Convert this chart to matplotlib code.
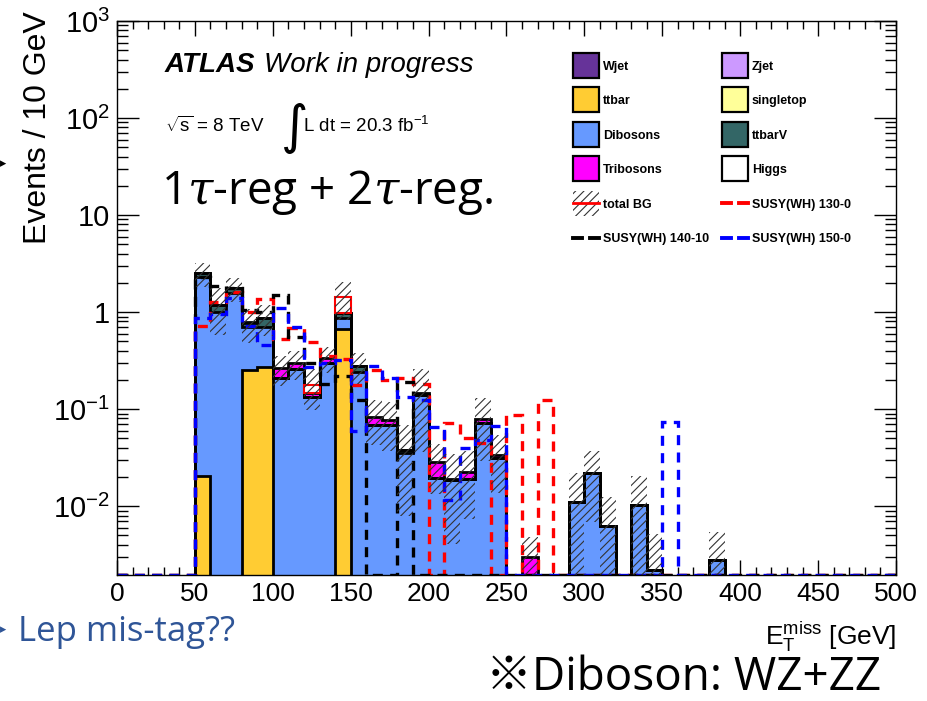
import numpy as np
import matplotlib
matplotlib.use('Agg')
import matplotlib.pyplot as plt
from matplotlib.patches import Rectangle
from matplotlib.lines import Line2D
from matplotlib.ticker import LogLocator, MultipleLocator, NullFormatter

plt.rcParams['font.family'] = ['Liberation Sans', 'DejaVu Sans']
plt.rcParams['mathtext.fontset'] = 'custom'
plt.rcParams['mathtext.rm'] = 'Liberation Sans'
plt.rcParams['mathtext.it'] = 'Liberation Sans:italic'
plt.rcParams['mathtext.bf'] = 'Liberation Sans:bold'
plt.rcParams['hatch.linewidth'] = 0.8

# ---------------- data ----------------
edges = np.arange(0, 510, 10)  # 50 bins of 10 GeV

ttbar = [0, 0, 0, 0, 0, 0.0204, 0, 0, 0.252, 0.27,
         0, 0, 0, 0, 0.67, 0, 0, 0, 0, 0,
         0, 0, 0, 0, 0, 0, 0, 0, 0, 0,
         0, 0, 0, 0, 0, 0, 0, 0, 0, 0,
         0, 0, 0, 0, 0, 0, 0, 0, 0, 0]
dibosons = [0, 0, 0, 0, 0, 2.28, 1.0, 1.57, 0.45, 0.43,
            0.21, 0.26, 0.133, 0.30, 0.20, 0.24, 0.068, 0.068, 0.035, 0.14,
            0.0194, 0.0185, 0.019, 0.072, 0.031, 0, 0, 0, 0, 0.0109,
            0.0219, 0.0063, 0, 0.0102, 0.0022, 0, 0, 0, 0.0028, 0,
            0, 0, 0, 0, 0, 0, 0, 0, 0, 0]
ttbarV = [0, 0, 0, 0, 0, 0.2, 0.18, 0.2, 0.07, 0.17,
          0, 0, 0, 0, 0.11, 0.04, 0, 0, 0.003, 0,
          0, 0, 0, 0, 0, 0, 0, 0, 0, 0,
          0, 0, 0, 0, 0, 0, 0, 0, 0, 0,
          0, 0, 0, 0, 0, 0, 0, 0, 0, 0]
tribosons = [0, 0, 0, 0, 0, 0, 0, 0, 0.01, 0,
             0.055, 0.04, 0.013, 0.035, 0, 0, 0.015, 0.009, 0, 0.006,
             0.009, 0.0006, 0.0034, 0.007, 0.0026, 0, 0.003, 0, 0, 0,
             0, 0, 0, 0, 0, 0, 0, 0, 0, 0,
             0, 0, 0, 0, 0, 0, 0, 0, 0, 0]
higgs = [0, 0, 0, 0, 0, 0, 0, 0, 0, 0,
         0, 0, 0.031, 0, 0.45, 0, 0, 0, 0, 0,
         0, 0, 0, 0, 0, 0, 0, 0, 0, 0,
         0, 0, 0, 0, 0, 0, 0, 0, 0, 0,
         0, 0, 0, 0, 0, 0, 0, 0, 0, 0]
bg_err = [0, 0, 0, 0, 0, 0.7, 0.6, 0.5, 0.3, 0.3,
          0.09, 0.1, 0.08, 0.1, 0.6, 0.1, 0.04, 0.04, 0.03, 0.11,
          0.015, 0.015, 0.015, 0.05, 0.02, 0, 0.0018, 0, 0, 0.011,
          0.015, 0.006, 0, 0.01, 0.003, 0, 0, 0, 0.0026, 0,
          0, 0, 0, 0, 0, 0, 0, 0, 0, 0]

sig_130_0 = [0, 0, 0, 0, 0, 0.72, 1.27, 1.6, 1.0, 1.36,
             0.53, 0.68, 0.49, 0.35, 0.33, 0.177, 0.25, 0.2, 0.21, 0.18,
             0, 0.072, 0.05, 0.045, 0, 0.087, 0, 0.124, 0, 0,
             0, 0, 0, 0, 0, 0, 0, 0, 0, 0,
             0, 0, 0, 0, 0, 0, 0, 0, 0, 0]
sig_140_10 = [0, 0, 0, 0, 0, 2.3, 1.85, 1.75, 1.05, 1.0,
              1.5, 0.55, 0.3, 0.18, 0.22, 0.124, 0, 0, 0.19, 0,
              0, 0, 0, 0, 0, 0, 0, 0, 0, 0,
              0, 0, 0, 0, 0, 0, 0, 0, 0, 0,
              0, 0, 0, 0, 0, 0, 0, 0, 0, 0]
sig_150_0 = [0, 0, 0, 0, 0, 0.87, 0.95, 1.39, 0.72, 0.46,
             1.1, 0.7, 0.27, 0.3, 0.32, 0.06, 0.28, 0.21, 0.133, 0.124,
             0.065, 0.0116, 0.04, 0.048, 0.067, 0, 0, 0, 0, 0,
             0, 0, 0, 0, 0, 0.0736, 0, 0, 0, 0,
             0, 0, 0, 0, 0, 0, 0, 0, 0, 0]

legend_col1 = ['Wjet', 'ttbar', 'Dibosons', 'Tribosons', 'total BG', 'SUSY(WH) 140-10']
legend_col2 = ['Zjet', 'singletop', 'ttbarV', 'Higgs', 'SUSY(WH) 130-0', 'SUSY(WH) 150-0']

YMIN, YMAX = 1.95e-3, 1e3

# ---------------- figure ----------------
W, H = 927, 701
fig = plt.figure(figsize=(W / 100, H / 100), dpi=100)
fx = lambda px: px / W
fy = lambda py: 1 - py / H
ax = fig.add_axes([fx(117), fy(575), (896 - 117) / W, (575 - 21) / H])
ax.set_yscale('log')
ax.set_xlim(0, 500)
ax.set_ylim(YMIN, YMAX)

c_wjet, c_zjet = '#663399', '#cc99ff'
c_ttbar, c_stop = '#ffcc33', '#ffff99'
c_dib, c_ttv = '#6699ff', '#336666'
c_trib, c_higgs = '#ff00ff', '#ffffff'

c1 = np.array(ttbar)
c2 = c1 + np.array(dibosons)
c3 = c2 + np.array(ttbarV)
c4 = c3 + np.array(tribosons)
hg = np.array(higgs)
total = c4 + hg

tiny = 1e-7
def pos(v):
    return np.where(np.asarray(v) > 0, v, tiny)

for cum, col in [(c4, c_trib), (c3, c_ttv), (c2, c_dib), (c1, c_ttbar)]:
    ax.stairs(pos(cum), edges, baseline=tiny, fill=True, facecolor=col,
              edgecolor='none', zorder=2)
    ax.stairs(pos(cum), edges, baseline=None, fill=False, edgecolor='black',
              linewidth=2.0, zorder=2.5)

mask = hg > 0
ax.bar(edges[:-1][mask], hg[mask], bottom=c4[mask], width=10, align='edge',
       facecolor=c_higgs, edgecolor='red', linewidth=1.5, zorder=3)

# signals
def floor_vals(v):
    v = np.asarray(v, dtype=float)
    return np.where(v > 0, v, YMIN)

dash = (0, (3, 2.2))
for v, col in [(sig_130_0, 'red'), (sig_140_10, 'black'), (sig_150_0, 'blue')]:
    ax.stairs(floor_vals(v), edges, baseline=None, fill=False, edgecolor=col,
              linewidth=2.4, linestyle=dash, zorder=4)

# uncertainty band
err = np.array(bg_err)
lo = np.maximum(total - err, tiny)
hi = total + err
ax.fill_between(edges, np.append(lo, lo[-1]), np.append(hi, hi[-1]), step='post',
                facecolor='none', edgecolor='#333333', hatch='////',
                linewidth=0, zorder=5)

# ticks
ax.xaxis.set_major_locator(MultipleLocator(50))
ax.xaxis.set_minor_locator(MultipleLocator(10))
ax.set_yticks([1e-2, 1e-1, 1, 10, 100, 1000])
ax.set_yticklabels([r'10$^{\mathrm{-2}}$', r'10$^{\mathrm{-1}}$', '1', '10',
                    r'10$^{\mathrm{2}}$', r'10$^{\mathrm{3}}$'])
ax.yaxis.set_minor_locator(LogLocator(base=10, subs=np.arange(2, 10), numticks=20))
ax.yaxis.set_minor_formatter(NullFormatter())
ax.tick_params(which='both', direction='in', top=True, right=True, width=1)
ax.tick_params(axis='x', which='major', length=11, labelsize=19, pad=5)
ax.tick_params(axis='x', which='minor', length=5.5)
ax.tick_params(axis='y', which='major', length=16, labelsize=21, pad=5)
ax.tick_params(axis='y', which='minor', length=8)
for s in ax.spines.values():
    s.set_linewidth(1.0)
    s.set_zorder(6)

# legend (drawn manually in figure pixel coordinates)
def rect(x, y, w, h, **kw):
    fig.add_artist(Rectangle((fx(x), fy(y + h)), w / W, h / H,
                             transform=fig.transFigure, **kw))
def hline(x0, x1, y, **kw):
    fig.add_artist(Line2D([fx(x0), fx(x1)], [fy(y), fy(y)],
                          transform=fig.transFigure, **kw))

def legend_column(x0, labels, handles):
    for i, (lab, hnd) in enumerate(zip(labels, handles)):
        ytop = 53 + i * 34.4
        yc = ytop + 12.5
        kind, col = hnd
        if kind == 'box':
            rect(x0, ytop, 26, 25, facecolor=col, edgecolor='black', linewidth=1.6)
        elif kind == 'tot':
            rect(x0, ytop, 26, 25, facecolor='none', edgecolor='#333333',
                 hatch='////', linewidth=0)
            hline(x0, x0 + 26, yc, color='red', linewidth=2)
        else:
            hline(x0, x0 + 9, yc, color=col, linewidth=2.8)
            hline(x0 + 17, x0 + 26, yc, color=col, linewidth=2.8)
        fig.text(fx(x0 + 30), fy(yc), lab, weight='bold', size=9, va='center_baseline')

legend_column(573, legend_col1, [('box', c_wjet), ('box', c_ttbar), ('box', c_dib),
                                 ('box', c_trib), ('tot', None), ('line', 'black')])
legend_column(722, legend_col2, [('box', c_zjet), ('box', c_stop), ('box', c_ttv),
                                 ('box', c_higgs), ('line', 'red'), ('line', 'blue')])

# texts
fig.text(fx(165), fy(72), 'ATLAS', weight='bold', style='italic', size=20)
fig.text(fx(264), fy(72), 'Work in progress', style='italic', size=20)
fig.text(fx(165), fy(132), r'$\sqrt{\mathrm{s}}$ = 8 TeV', size=13.5)
fig.text(fx(281), fy(143), '\u222b', family=['DejaVu Sans'], size=38)
fig.text(fx(303), fy(132), r'L dt = 20.3 fb$^{\mathrm{-1}}$', size=13.5)
fig.text(fx(161), fy(204), r'1$\tau$-reg + 2$\tau$-reg.', family=['Open Sans', 'DejaVu Sans'],
         math_fontfamily='dejavuserif', size=33)

fig.text(fx(38), fy(11), 'Events / 10 GeV', rotation=90, ha='center', va='top', size=23)
fig.text(fx(896), fy(645), r'E$_{\mathrm{T}}^{\mathrm{miss}}$ [GeV]', ha='right', size=19)
fig.text(fx(0), fy(633), '\u25b8', color='#2F5597', family=['DejaVu Sans'], size=9)
fig.text(fx(18), fy(641), 'Lep mis-tag??', color='#2F5597',
         family=['Open Sans', 'Noto Sans CJK JP'], size=25)
fig.text(fx(486), fy(690), '\u203bDiboson: WZ+ZZ', color='black',
         family=['Open Sans', 'Noto Sans CJK JP', 'DejaVu Sans'], size=33)
fig.text(fx(0), fy(167), '\u25b8', color='black', family=['DejaVu Sans'], size=9)

fig.savefig('out.png', dpi=100)
